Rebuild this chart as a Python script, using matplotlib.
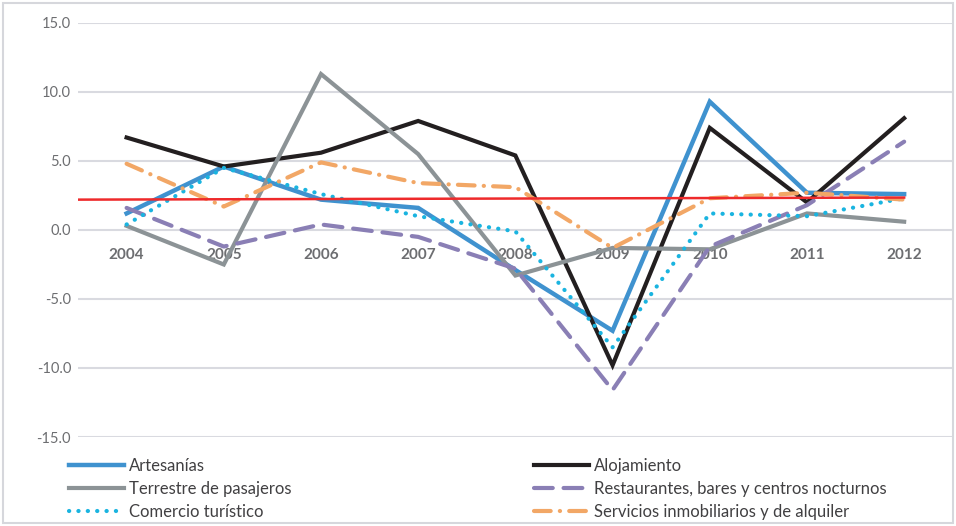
import matplotlib.pyplot as plt
from matplotlib.patches import Rectangle

years = [2004, 2005, 2006, 2007, 2008, 2009, 2010, 2011, 2012]

artesanias = [1.2, 4.6, 2.2, 1.6, -2.9, -7.3, 9.3, 2.7, 2.6]
alojamiento = [6.7, 4.6, 5.6, 7.9, 5.4, -9.8, 7.4, 2.0, 8.1]
terrestre = [0.3, -2.5, 11.3, 5.5, -3.3, -1.3, -1.4, 1.2, 0.6]
restaurantes = [1.6, -1.2, 0.4, -0.5, -2.8, -11.6, -1.2, 1.8, 6.4]
comercio = [0.4, 4.5, 2.6, 1.0, -0.1, -8.5, 1.2, 1.0, 2.3]
servicios = [4.8, 1.7, 4.9, 3.4, 3.1, -1.3, 2.3, 2.7, 2.2]

# red reference line (starts at the left edge of the plot)
ref_x = [2003.5, 2012]
ref_y = [2.2, 2.35]

yticks = [-15, -10, -5, 0, 5, 10, 15]

plt.rcParams['font.family'] = ['Lato', 'DejaVu Sans']

fig = plt.figure(figsize=(9.56, 5.26), dpi=100)
ax = fig.add_axes([0.0816, 0.1692, 0.915, 0.7871])

fig.patches.append(Rectangle((0.003, 0.005), 0.994, 0.99, transform=fig.transFigure,
                             fill=False, edgecolor='#D6D7DC', lw=1.5))

grid_c = '#D9DAE0'
for v in yticks:
    ax.axhline(v, color=grid_c, lw=1.5, zorder=0)

l1, = ax.plot(years, artesanias, color='#3F92CF', lw=3.2, label='Artesanías',
              solid_joinstyle='miter')
l2, = ax.plot(years, alojamiento, color='#231F20', lw=3.0, label='Alojamiento',
              solid_joinstyle='miter')
l3, = ax.plot(years, terrestre, color='#8C9396', lw=3.0, label='Terrestre de pasajeros',
              solid_joinstyle='miter')
l4, = ax.plot(years, restaurantes, color='#8A7FB5', lw=3.0, dashes=(4.5, 2.6),
              dash_capstyle='round', label='Restaurantes, bares y centros nocturnos')
l5, = ax.plot(years, comercio, color='#1AB4E0', lw=3.0, dashes=(0.05, 2.2),
              dash_capstyle='round', label='Comercio turístico')
l6, = ax.plot(years, servicios, color='#F2A766', lw=3.0, dashes=(4, 2.2, 0.05, 2.2),
              dash_capstyle='round', label='Servicios inmobiliarios y de alquiler')
ax.plot(ref_x, ref_y, color='#EE2A2B', lw=1.8, zorder=5)

# spine first: moving it resets the tick labels
ax.spines['bottom'].set_position(('data', 0))
for s in ax.spines.values():
    s.set_visible(False)
ax.tick_params(axis='x', length=0, pad=13)
ax.tick_params(axis='y', length=0, pad=5)

ax.set_xlim(2003.5, 2012.5)
ax.set_ylim(-15, 15)
ax.set_yticks(yticks)
ax.set_yticklabels([f'{v:.1f}' for v in yticks], color='#6D6E71', fontsize=10.5)

ax.set_xticks(years)
ax.set_xticklabels([str(y) for y in years], fontweight='bold', color='#6D6E71',
                   fontsize=11)

fig.legend(handles=[l1, l3, l5, l2, l4, l6], ncol=2, loc='upper left',
           bbox_to_anchor=(0.056, 0.158), frameon=False, fontsize=12,
           handlelength=3.3, handletextpad=0.3, columnspacing=14.6,
           labelspacing=0.42, labelcolor='#414042')

fig.savefig('out.png', dpi=100)
